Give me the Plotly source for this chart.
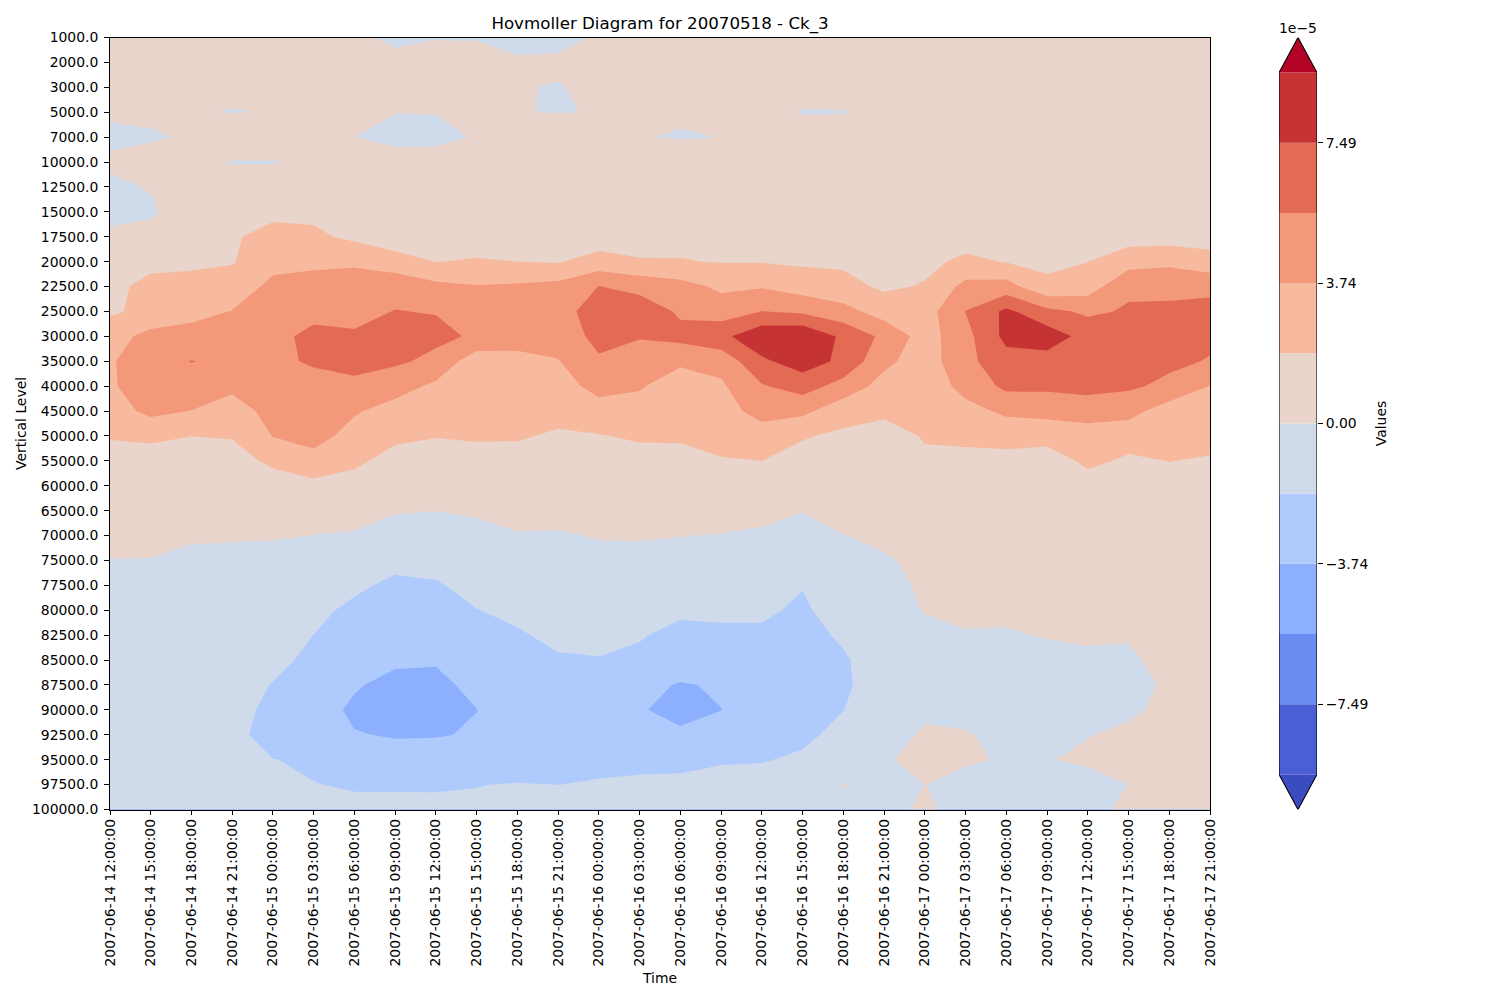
import plotly.graph_objects as go

times = [
    "2007-06-14 12:00:00", "2007-06-14 15:00:00", "2007-06-14 18:00:00", "2007-06-14 21:00:00",
    "2007-06-15 00:00:00", "2007-06-15 03:00:00", "2007-06-15 06:00:00", "2007-06-15 09:00:00",
    "2007-06-15 12:00:00", "2007-06-15 15:00:00", "2007-06-15 18:00:00", "2007-06-15 21:00:00",
    "2007-06-16 00:00:00", "2007-06-16 03:00:00", "2007-06-16 06:00:00", "2007-06-16 09:00:00",
    "2007-06-16 12:00:00", "2007-06-16 15:00:00", "2007-06-16 18:00:00", "2007-06-16 21:00:00",
    "2007-06-17 00:00:00", "2007-06-17 03:00:00", "2007-06-17 06:00:00", "2007-06-17 09:00:00",
    "2007-06-17 12:00:00", "2007-06-17 15:00:00", "2007-06-17 18:00:00", "2007-06-17 21:00:00",
]
vertical_levels = [
    "1000.0", "2000.0", "3000.0", "5000.0", "7000.0", "10000.0", "12500.0", "15000.0",
    "17500.0", "20000.0", "22500.0", "25000.0", "30000.0", "35000.0", "40000.0", "45000.0",
    "50000.0", "55000.0", "60000.0", "65000.0", "70000.0", "75000.0", "77500.0", "80000.0",
    "82500.0", "85000.0", "87500.0", "90000.0", "92500.0", "95000.0", "97500.0", "100000.0",
]

# Ck_3 values (units of 1e-5), one list per time step, top level to bottom level
col_00 = [.7,.8,.7,.4,-.6,.45,-.5,-.6,.45,.9,1.2,1.6,3.0,3.5,3.45,2.9,2.0,1.2,.9,.6,.4,-.03,-.3,-.5,-.7,-.8,-.9,-1,-1,-.9,-.7,-.5]
col_01 = [.8,.8,.8,.7,-.4,1.6,.17,-.4,1.0,1.2,2.6,2.4,4.3,5.1,5.0,4.2,2.3,.9,.8,.6,.35,-.04,-.4,-.7,-.9,-1.1,-1.2,-1.2,-1.3,-1.2,-.9,-.7]
col_02 = [.9,.9,.9,.13,.4,.6,1.0,1.6,1.1,1.4,2.7,3.2,4.4,5.65,5.2,3.7,1.88,1.0,.8,.5,.25,-.46,-.8,-1.0,-1.2,-1.3,-1.4,-1.5,-1.5,-1.5,-1.2,-1.0]
col_03 = [.9,1,.25,-.05,1.5,-.1,.9,1.1,1.6,1.75,2.7,3.8,4.9,5.3,4.1,3.0,2.0,1.1,.8,.5,.2,-.57,-.9,-1.1,-1.2,-1.25,-1.3,-1.4,-1.5,-1.45,-1.2,-1.0]
col_04 = [.9,1,.9,.06,1.5,-.1,.9,1.3,2.7,3.2,4.2,4.5,5.2,5.2,4.9,4.3,3.8,2.3,.9,.5,.12,-.5,-.9,-1.2,-1.4,-1.5,-1.93,-2.2,-2.4,-1.85,-1.4,-1.2]
col_05 = [.9,1,1,.5,.7,.5,1,1.5,2.2,3.4,4.4,5.2,6.0,5.85,4.93,4.8,4.5,3.0,1.4,.5,-.01,-.5,-1.0,-1.4,-1.88,-2.2,-2.6,-3.1,-3.2,-2.0,-1.85,-1.5]
col_06 = [.4,1,1,.5,.02,.7,1.1,1.2,1.5,3.4,4.8,5.3,5.75,5.85,5.45,3.95,3.0,2.4,.9,.2,-.05,-.6,-1.5,-2.3,-2.7,-3.1,-3.6,-4.0,-3.67,-2.8,-1.95,-1.68]
col_07 = [-.4,.57,.8,.07,-1,1.5,1.2,1.3,1.0,2.5,5.2,5.65,6.4,5.9,4.5,3.0,2.4,.93,.6,.05,-.3,-1.3,-2.3,-2.7,-3.1,-3.5,-4.18,-4.5,-3.85,-3.16,-2.0,-1.55]
col_08 = [-.1,.9,.9,.09,-.8,1.35,1.2,1.2,1.3,1.84,4.2,5.55,6.0,5.2,3.37,2.8,1.95,.95,.55,.02,-.7,-1.4,-2.0,-2.5,-2.9,-3.65,-4.0,-4.5,-3.85,-2.93,-1.95,-1.7]
col_09 = [-.15,.9,1,.6,.2,.9,1.1,1.2,1.2,2.0,3.85,4.9,5.4,2.6,2.5,2.3,2.0,1.45,.9,.2,-.5,-1.0,-1.45,-1.9,-2.4,-2.8,-3.47,-3.76,-3.6,-2.7,-1.9,-1.7]
col_10 = [-.6,.25,.1,.05,.9,1,1.1,1.2,1.3,1.87,4.0,4.9,4.9,2.9,2.7,2.5,2.0,1.4,.9,.5,-.1,-.6,-1.1,-1.6,-2.0,-2.6,-3.0,-3.3,-3.3,-2.7,-1.81,-1.5]
col_11 = [-.5,.3,-.1,-.06,1.44,1.0,1.1,1.2,1.3,1.75,4.3,4.9,4.5,3.65,3.05,2.3,1.7,1.3,.9,.45,-.12,-.7,-1,-1.3,-1.6,-2.0,-2.6,-3.1,-3.2,-2.7,-1.88,-1.5]
col_12 = [.16,.6,.43,.06,1.0,1.0,1.1,1.1,.95,2.6,5.65,6.5,6.17,5.38,4.3,3.06,1.78,1.2,.8,.5,.08,-.35,-.8,-1.1,-1.4,-1.95,-2.5,-3.0,-2.9,-2.1,-1.8,-1.4]
col_13 = [.7,.9,.9,.6,.09,1,1.1,1.1,1.2,2.0,5.05,6.7,5.8,4.4,4.0,2.7,2.1,1.25,.9,.6,.1,-.33,-.7,-1.1,-1.75,-2.2,-3.35,-3.62,-3.3,-2.2,-1.65,-1.4]
col_14 = [.8,.9,.9,.3,-.15,1.35,1.2,1.2,1.4,1.95,4.4,5.35,6.15,4.2,2.3,2.2,2.0,1.54,.9,.4,.02,-.3,-.6,-1.6,-2.3,-3.0,-3.85,-4.2,-3.5,-2.2,-1.6,-1.3]
col_15 = [.9,1,1,.7,.02,1.1,1.2,1.2,1.2,1.8,3.4,4.7,7.0,4.4,3.46,2.9,2.4,1.77,1.1,.3,-.03,-.4,-.8,-1.6,-2.14,-2.6,-3.6,-3.76,-3.0,-2.05,-1.2,-1.0]
col_16 = [.9,1,1,.4,.8,1.1,1.2,1.3,1.4,1.8,3.6,5.65,8.9,7.14,5.45,4.5,2.77,1.88,1.1,.4,-.2,-.7,-1.1,-1.6,-2.14,-2.7,-3.1,-3.3,-3.0,-2.0,-1.0,-.9]
col_17 = [.9,1,.8,-.1,1.0,1.2,1.2,1.2,1.3,1.6,2.9,5.3,9.2,8.4,6.4,4.2,2.0,1.35,.8,.1,-1.3,-1.6,-1.8,-2.15,-2.5,-2.8,-3.1,-3.2,-2.3,-1.56,-1.0,-.8]
col_18 = [1,1,.7,-.08,1.0,1.2,1.2,1.2,1.3,1.6,2.4,4.4,7.1,7.06,4.91,2.57,1.57,1.2,.9,.5,-.02,-.4,-.7,-1.0,-1.6,-2.1,-2.2,-1.9,-1.3,-.9,.05,-.12]
col_19 = [1,1,1,.45,1,1.2,1.2,1.2,1.2,1.3,1.6,2.9,5.2,4.2,3.05,2.2,1.2,.9,.7,.5,.2,-.1,-.3,-.5,-.7,-.8,-.8,-.8,-.7,-.2,-.5,-.8]
col_20 = [1,1,1,.8,1,1.2,1.2,1.2,1.3,1.5,2.0,2.9,2.92,2.8,2.85,2.5,2.0,1.6,1.3,1,.8,.22,.15,.05,-.25,-.5,-.6,-.25,.2,.6,.01,.4]
col_21 = [1,1,1,1,1,1.1,1.2,1.2,1.2,2.2,4.3,5.65,5.0,5.09,4.2,3.3,2.5,1.1,.9,.7,.5,.4,.3,.15,-.05,-.4,-.6,-.2,.05,.1,-.27,-.9]
col_22 = [1,1,1,1,1,1.1,1.2,1.2,1.3,1.8,4.5,7.9,8.0,6.8,6.07,4.0,2.9,1.0,.8,.6,.5,.4,.3,.15,-.07,-.4,-.6,-.4,-.16,-.07,-.3,-.8]
col_23 = [1,1,1,1.1,1.1,1.2,1.2,1.2,1.2,1.5,2.25,6.1,8.5,6.73,6.0,4.3,2.6,.9,.8,.6,.5,.4,.3,.2,.05,-.26,-.5,-.4,-.2,-.07,-.4,-.6]
col_24 = [1,1,1,1,1.1,1.2,1.2,1.2,1.3,1.85,2.8,5.3,6.8,6.8,6.0,4.95,2.53,2.3,1.05,.8,.6,.4,.3,.2,.1,-.13,-.4,-.3,-.05,.25,-.6,-.35]
col_25 = [1,1,1,1,1.1,1.2,1.2,1.2,1.1,3.0,5.3,5.8,6.3,6.9,5.9,4.4,2.6,1.6,1.1,.8,.6,.5,.3,.2,.05,-.1,-.25,-.2,.24,.25,.01,.26]
col_26 = [1,1,1,1,1.1,1.2,1.2,1.2,1.1,3.3,5.3,5.85,6.3,6.0,5.2,2.8,2.3,1.9,1.4,1.0,.7,.6,.5,.4,.3,.2,.12,.28,.4,.5,.5,.6]
col_27 = [1,1,1,1,1.1,1.2,1.2,1.2,1.4,2.3,5.55,5.7,6.0,5.5,3.7,3.1,2.5,1.7,1.4,1.1,.8,.7,.6,.5,.5,.5,.5,.6,.6,.7,.7,.8]

columns = [col_00, col_01, col_02, col_03, col_04, col_05, col_06, col_07, col_08, col_09,
           col_10, col_11, col_12, col_13, col_14, col_15, col_16, col_17, col_18, col_19,
           col_20, col_21, col_22, col_23, col_24, col_25, col_26, col_27]
z = [list(row) for row in zip(*columns)]

level_start = -9.36
level_end = 9.36
level_step = 1.872
n_bands = 10
bar_edges = [level_start + i * level_step for i in range(n_bands + 1)]

under_color = "#3b4cc0"
over_color = "#b40426"
band_colors = ["#4a5fd3", "#6a8bef", "#8db0fe", "#afcafc", "#cfdaea",
               "#e9d5cb", "#f7ba9f", "#f4987a", "#e36b54", "#c53334"]
all_colors = [under_color] + band_colors + [over_color]
scale = []
for i, c in enumerate(all_colors):
    scale.append([i / len(all_colors), c])
    scale.append([(i + 1) / len(all_colors), c])

colorbar_ticks = [-7.49, -3.74, 0.0, 3.74, 7.49]
colorbar_ticktext = ["\u22127.49", "\u22123.74", "0.00", "3.74", "7.49"]

FONT = "DejaVu Sans"
TICK = 13.9
W, H = 1500, 1000

fig = go.Figure()
fig.add_trace(go.Contour(
    x=times, y=vertical_levels, z=z,
    autocontour=False,
    contours=dict(start=level_start, end=level_end, size=level_step,
                  coloring="fill", showlines=False),
    line=dict(width=0, smoothing=0),
    colorscale=scale,
    zmin=level_start - level_step, zmax=level_end + level_step,
    showscale=False, xaxis="x", yaxis="y",
    connectgaps=False,
))

# colour bar drawn on its own axes
half = level_step / 2
fig.add_trace(go.Bar(
    x=[0.5] * n_bands, y=[level_step] * n_bands, base=bar_edges[:-1], width=1,
    marker=dict(color=band_colors, line=dict(width=0)),
    xaxis="x2", yaxis="y2", showlegend=False, hoverinfo="skip",
))
fig.add_trace(go.Scatter(
    x=[0, 0.5, 1, 0], y=[level_end, level_end + half, level_end, level_end],
    fill="toself", fillcolor=over_color, mode="none",
    xaxis="x2", yaxis="y2", showlegend=False, hoverinfo="skip",
))
fig.add_trace(go.Scatter(
    x=[0, 0.5, 1, 0], y=[level_start, level_start - half, level_start, level_start],
    fill="toself", fillcolor=under_color, mode="none",
    xaxis="x2", yaxis="y2", showlegend=False, hoverinfo="skip",
))
fig.add_trace(go.Scatter(
    x=[0, 0.5, 1, 1, 0.5, 0, 0],
    y=[level_end, level_end + half, level_end, level_start, level_start - half, level_start, level_end],
    mode="lines", line=dict(color="black", width=1.1),
    xaxis="x2", yaxis="y2", showlegend=False, hoverinfo="skip", cliponaxis=False,
))

fig.update_layout(
    width=W, height=H,
    margin=dict(l=0, r=0, t=0, b=0),
    paper_bgcolor="white", plot_bgcolor="white",
    font=dict(family=FONT, size=TICK, color="black"),
    showlegend=False,
    barmode="overlay",
    title=dict(text="Hovmoller Diagram for 20070518 - Ck_3",
               font=dict(family=FONT, size=16.67, color="black"),
               x=660 / W, xref="paper", xanchor="center",
               y=1 - 23 / H, yref="paper", yanchor="middle"),
    xaxis=dict(
        domain=[110 / W, 1210 / W], anchor="y", type="category",
        categoryorder="array", categoryarray=times,
        range=[0, len(times) - 1], tickmode="array", tickvals=times, ticktext=times,
        tickangle=-90, ticks="outside", ticklen=4.9, tickwidth=1.1, tickcolor="black",
        ticklabelstandoff=-2,
        showline=True, linecolor="black", linewidth=1.1, mirror=True,
        showgrid=False, zeroline=False, tickfont=dict(family=FONT, size=TICK),
        title=dict(text="Time", font=dict(family=FONT, size=TICK), standoff=7),
        automargin=False,
    ),
    yaxis=dict(
        domain=[1 - 809.5 / H, 1 - 37.5 / H], anchor="x", type="category",
        categoryorder="array", categoryarray=vertical_levels,
        range=[len(vertical_levels) - 1, 0], tickmode="array",
        tickvals=vertical_levels, ticktext=vertical_levels,
        ticks="outside", ticklen=4.9, tickwidth=1.1, tickcolor="black",
        ticklabelstandoff=3,
        showline=True, linecolor="black", linewidth=1.1, mirror=True,
        showgrid=False, zeroline=False, tickfont=dict(family=FONT, size=TICK),
        title=dict(text="Vertical Level", font=dict(family=FONT, size=TICK), standoff=2),
        automargin=False,
    ),
    xaxis2=dict(
        domain=[1279 / W, 1317 / W], anchor="y2", range=[0, 1],
        showticklabels=False, ticks="", showline=False, showgrid=False, zeroline=False,
    ),
    yaxis2=dict(
        domain=[1 - 809.5 / H, 1 - 37.5 / H], anchor="x2", side="right",
        range=[level_start - half, level_end + half],
        tickmode="array", tickvals=colorbar_ticks, ticktext=colorbar_ticktext,
        ticks="outside", ticklen=4.9, tickwidth=1.1, tickcolor="black",
        showline=False, showgrid=False, zeroline=False, tickfont=dict(family=FONT, size=TICK),
        title=dict(text="Values", font=dict(family=FONT, size=TICK), standoff=8),
        automargin=False,
    ),
    annotations=[dict(text="1e\u22125", xref="paper", yref="paper",
                      x=1298 / W, y=1 - 28.5 / H, xanchor="center", yanchor="middle",
                      showarrow=False, font=dict(family=FONT, size=TICK, color="black"))],
)

fig.write_html("out.html", config={"displayModeBar": False},
               post_script="document.body.style.margin='0';document.body.style.overflow='hidden';")
